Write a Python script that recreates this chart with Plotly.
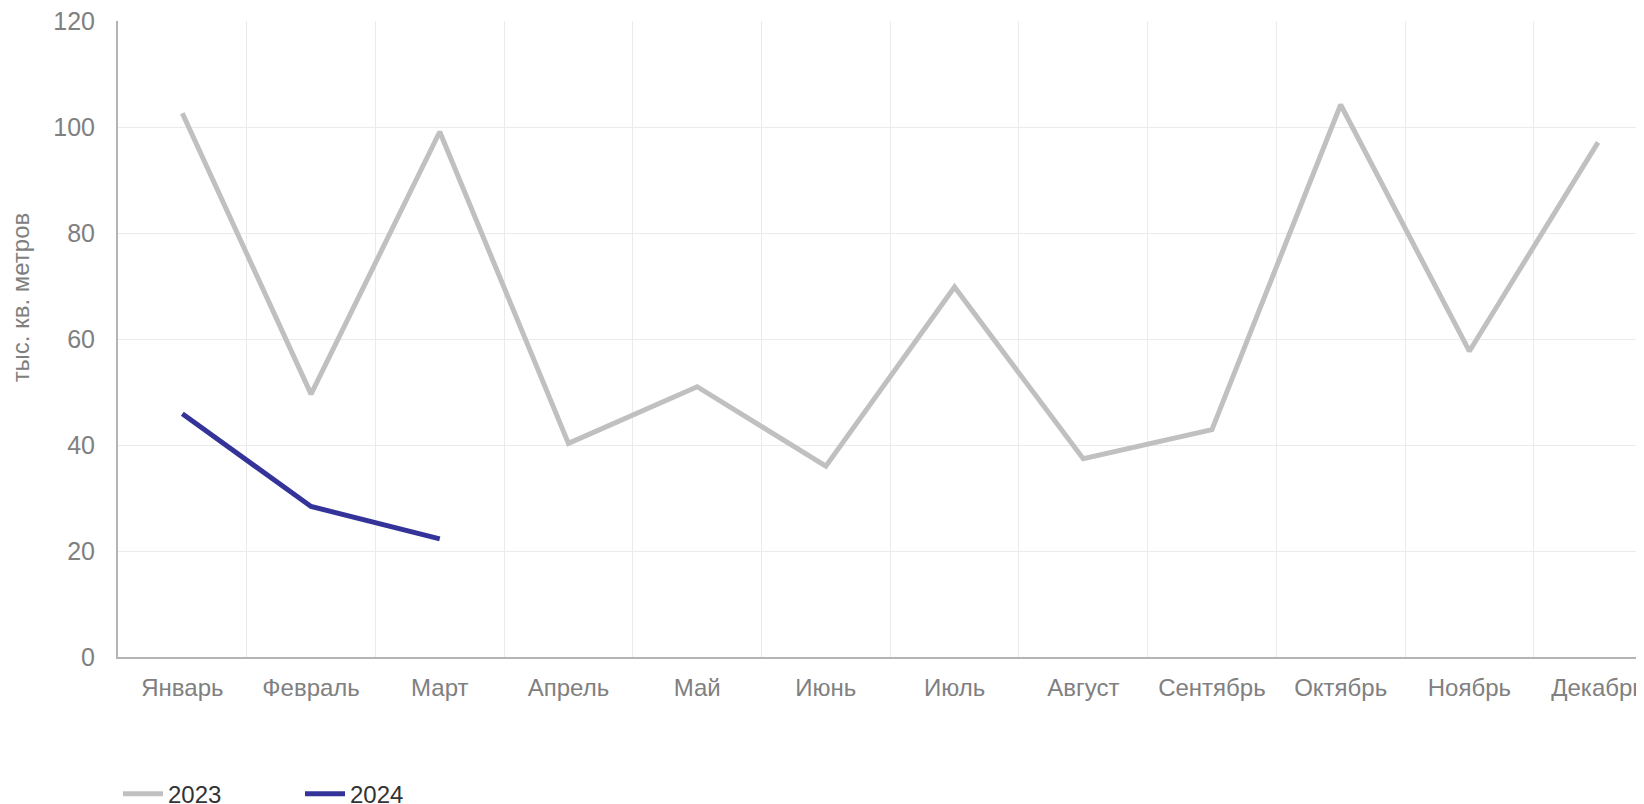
import plotly.graph_objects as go

months = ["Январь", "Февраль", "Март", "Апрель", "Май", "Июнь",
          "Июль", "Август", "Сентябрь", "Октябрь", "Ноябрь", "Декабрь"]
values_2023 = [102.6, 49.6, 99.1, 40.3, 51.0, 36.0, 69.8, 37.4, 42.9, 104.2, 57.7, 97.1]
months_2024 = ["Январь", "Февраль", "Март"]
values_2024 = [45.9, 28.4, 22.3]
y_ticks = [0, 20, 40, 60, 80, 100, 120]

FONT = "Liberation Sans, Arial, sans-serif"

fig = go.Figure()
fig.add_trace(go.Scatter(x=months, y=values_2023, name="2023", mode="lines",
                         line=dict(color="#c0c0c0", width=5)))
fig.add_trace(go.Scatter(x=months_2024, y=values_2024, name="2024", mode="lines",
                         line=dict(color="#333399", width=5)))

# page body has an 8px margin; size the figure so it ends at the window edge
W, H = 1636, 796
L, T = 110, 13
plot_bottom = 649.3
B = H - plot_bottom
plot_w = W - L
plot_h = plot_bottom - T
cat_w = 128.7

fig.update_layout(
    width=W, height=H,
    margin=dict(l=L, r=0, t=T, b=B, autoexpand=False),
    paper_bgcolor="white", plot_bgcolor="white",
    font=dict(family=FONT, size=24, color="#808080"),
    showlegend=True,
    legend=dict(orientation="h", x=0, xanchor="left", y=-0.2156, yanchor="middle",
                font=dict(family=FONT, size=24, color="#333333"),
                itemwidth=40, entrywidth=127, entrywidthmode="pixels", traceorder="normal"),
    xaxis=dict(type="category", categoryorder="array", categoryarray=months,
               range=[-0.5, -0.5 + plot_w / cat_w],
               tickson="boundaries", ticks="", showgrid=True, gridcolor="#ebebeb", gridwidth=1,
               showline=True, linecolor="#b4b4b4", linewidth=2,
               tickfont=dict(family=FONT, size=24, color="#808080"), zeroline=False,
               ticklabelstandoff=8, ticklabeloverflow="allow"),
    yaxis=dict(range=[0, 120], tickvals=y_ticks, ticks="", showgrid=True,
               gridcolor="#ebebeb", gridwidth=1,
               showline=True, linecolor="#b4b4b4", linewidth=2, zeroline=False,
               tickfont=dict(family=FONT, size=25, color="#808080"),
               ticklabelstandoff=16, ticklabeloverflow="allow"),
    annotations=[dict(text="тыс. кв. метров", textangle=-90, xref="paper", yref="paper",
                      x=(12 - L) / plot_w, y=(plot_bottom - 289.5) / plot_h,
                      xanchor="center", yanchor="middle",
                      showarrow=False, font=dict(family=FONT, size=24, color="#808080"))],
)

fig.write_html("out.html")
